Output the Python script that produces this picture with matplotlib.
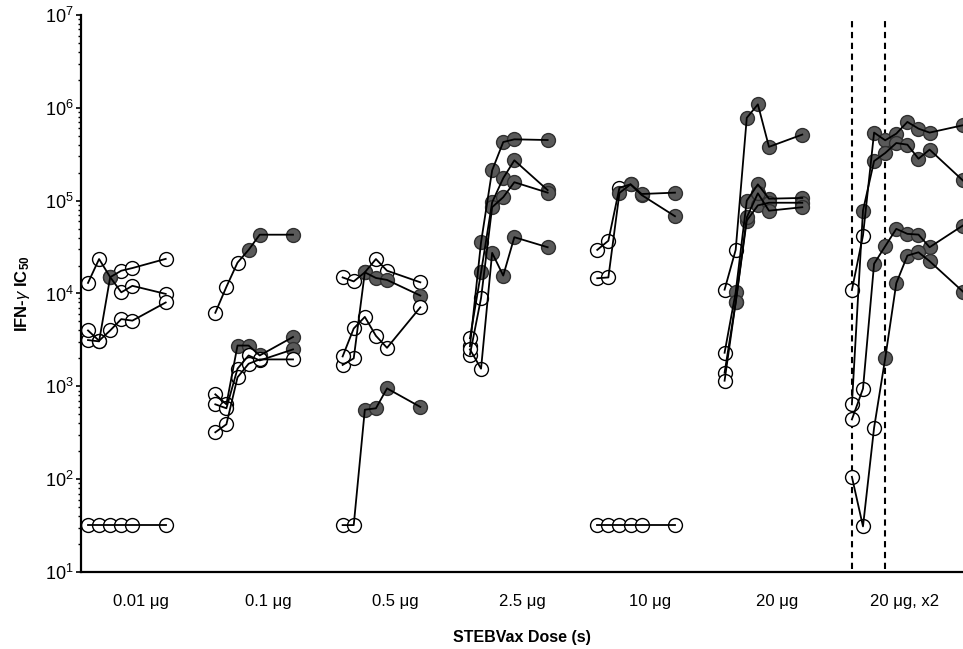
import numpy as np
import matplotlib.pyplot as plt
from matplotlib.ticker import LogLocator, NullFormatter

plt.rcParams['font.family'] = ['Liberation Sans', 'DejaVu Sans']
plt.rcParams['mathtext.fontset'] = 'custom'
plt.rcParams['mathtext.rm'] = 'Liberation Sans'
plt.rcParams['mathtext.it'] = 'Liberation Sans:italic'
plt.rcParams['mathtext.bf'] = 'Liberation Sans:bold'

# Dose groups and sampling weeks
doses = ['0.01 μg', '0.1 μg', '0.5 μg', '2.5 μg', '10 μg', '20 μg', '20 μg, x2']
weeks = [0, 1, 2, 3, 4, 7]
weeks_x2 = [0, 1, 2, 3, 4, 5, 6, 7, 10]
dose_weeks_x2 = [0, 3]

# IFN-gamma IC50 per subject, and whether the point is drawn filled
ic50_001 = [[13000, 23500, 15000, 10300, 12100, 9900],
            [3150, 3050, 15000, 17600, 18800, 23600],
            [4000, 3100, 4000, 5300, 5100, 8000],
            [32, 32, 32, 32, 32, 32]]
fill_001 = [[0, 0, 0, 0, 0, 0],
            [0, 0, 1, 0, 0, 0],
            [0, 0, 0, 0, 0, 0],
            [0, 0, 0, 0, 0, 0]]

ic50_01 = [[6200, 11800, 21500, 29500, 43000, 43000],
           [820, 640, 2750, 2750, 2150, 3400],
           [640, 580, 1550, 2150, 1900, 2500],
           [320, 390, 1250, 1750, 1950, 1950]]
fill_01 = [[0, 0, 0, 1, 1, 1],
           [0, 0, 1, 1, 1, 1],
           [0, 0, 0, 0, 0, 1],
           [0, 0, 0, 0, 0, 0]]

ic50_05 = [[14900, 13500, 16900, 23500, 17600, 13200],
           [1700, 2000, 16900, 14700, 14000, 9500],
           [2100, 4200, 5600, 3500, 2600, 7100],
           [32, 32, 560, 580, 950, 600]]
fill_05 = [[0, 0, 0, 0, 0, 0],
           [0, 0, 1, 1, 1, 1],
           [0, 0, 0, 0, 0, 0],
           [0, 0, 1, 1, 1, 1]]

ic50_25 = [[2700, 35600, 212000, 428000, 458000, 450000],
           [3300, 16900, 96000, 175000, 272000, 130000],
           [2200, 8900, 85000, 109000, 158000, 122000],
           [2500, 1550, 27400, 15600, 40400, 31500]]
fill_25 = [[0, 1, 1, 1, 1, 1],
           [0, 1, 1, 1, 1, 1],
           [0, 0, 1, 1, 1, 1],
           [0, 0, 1, 1, 1, 1]]

ic50_10 = [[29500, 37000, 138000, 150000, 115000, 68000],
           [14600, 14900, 121000, 150000, 118000, 122000],
           [32, 32, 32, 32, 32, 32]]
fill_10 = [[0, 0, 0, 1, 1, 1],
           [0, 0, 1, 1, 1, 1],
           [0, 0, 0, 0, 0, 0]]

ic50_20 = [[11000, 29500, 780000, 1090000, 380000, 515000],
           [2300, 10300, 100000, 150000, 105000, 107000],
           [1400, 8000, 61000, 89000, 95000, 95000],
           [1150, 8000, 66000, 120000, 78000, 85000]]
fill_20 = [[0, 0, 1, 1, 1, 1],
           [0, 1, 1, 1, 1, 1],
           [0, 1, 1, 1, 1, 1],
           [0, 1, 1, 1, 1, 1]]

ic50_20x2 = [[10900, 42100, 541000, 447000, 527000, 705000, 597000, 541000, 649000],
             [640, 78300, 267000, 326000, 418000, 401000, 283000, 355000, 165000],
             [440, 944, 20900, 32300, 49700, 43900, 43100, 31500, 54000],
             [106, 31, 358, 2000, 12900, 25600, 27800, 22300, 10500]]
fill_20x2 = [[0, 0, 1, 1, 1, 1, 1, 1, 1],
             [0, 1, 1, 1, 1, 1, 1, 1, 1],
             [0, 0, 1, 1, 1, 1, 1, 1, 1],
             [0, 0, 0, 1, 1, 1, 1, 1, 1]]

groups = [(ic50_001, fill_001, weeks), (ic50_01, fill_01, weeks),
          (ic50_05, fill_05, weeks), (ic50_25, fill_25, weeks),
          (ic50_10, fill_10, weeks), (ic50_20, fill_20, weeks),
          (ic50_20x2, fill_20x2, weeks_x2)]

group_gap = 11.47

fig = plt.figure(figsize=(9.63, 6.49), dpi=100)
ax = fig.add_axes([81 / 963, 1 - 572 / 649, 1 - 81 / 963, (572 - 15) / 649])

for g, (vals, fills, wk) in enumerate(groups):
    x = g * group_gap + np.array(wk)
    for v, f in zip(vals, fills):
        v = np.array(v, dtype=float)
        f = np.array(f, dtype=bool)
        ax.plot(x[~f], v[~f], 'o', ms=10, mfc='white', mec='black', mew=1.0, zorder=2)
        ax.plot(x[f], v[f], 'o', ms=10, mfc='#5a5a5a', mec='#303030', mew=1.0, zorder=2)
        ax.plot(x, v, '-', color='black', lw=1.3, zorder=3)

for d in dose_weeks_x2:
    ax.axvline(6 * group_gap + d, ymin=0.006, ymax=0.995, color='black',
               ls=(0, (3, 2.2)), lw=1.5, zorder=1)

ax.set_yscale('log')
ax.set_ylim(10, 1e7)
ax.set_xlim(-0.63, 78.83)
ax.set_yticks([10.0 ** k for k in range(1, 8)])
ax.yaxis.set_minor_locator(LogLocator(base=10, subs=np.arange(2, 10), numticks=100))
ax.yaxis.set_minor_formatter(NullFormatter())
ax.tick_params(axis='y', which='major', direction='out', length=3.5, width=1.2,
               labelsize=13, pad=2)
ax.tick_params(axis='y', which='minor', direction='out', length=2, width=1.0)

ax.set_xticks([g * group_gap + 4.75 for g in range(len(doses))])
ax.set_xticklabels(doses)
ax.tick_params(axis='x', length=0, labelsize=12, pad=16)

for side in ['top', 'right']:
    ax.spines[side].set_visible(False)
ax.spines['left'].set_linewidth(1.6)
ax.spines['bottom'].set_linewidth(1.6)

ax.set_ylabel(r'IFN-$\gamma$ IC$_{\mathbf{50}}$', fontsize=12, fontweight='bold', labelpad=9)
ax.set_xlabel('STEBVax Dose (s)', fontsize=11.5, fontweight='bold', labelpad=15)

fig.savefig('out.png', dpi=100)
